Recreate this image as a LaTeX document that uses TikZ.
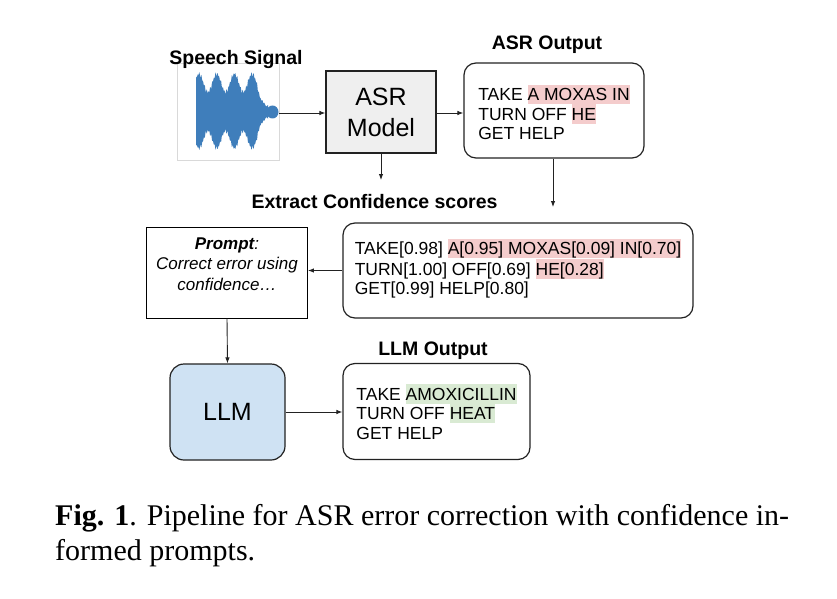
\documentclass[tikz,border=0pt]{standalone}
\usepackage{fontspec}
\setmainfont{Liberation Sans}
\newfontfamily\capfont{Liberation Serif}
\usetikzlibrary{arrows.meta}
\definecolor{hlred}{HTML}{F4CCCC}
\definecolor{hlgreen}{HTML}{D9EAD3}
\definecolor{llmblue}{HTML}{CFE2F3}
\definecolor{asrgray}{HTML}{EFEFEF}
\definecolor{wavecol}{HTML}{3F7EBB}
\definecolor{linecol}{HTML}{222222}
\newcommand\hlr[1]{{\setlength{\fboxsep}{0pt}\colorbox{hlred}{\rule[-0.18em]{0pt}{1.1em}#1}}}
\newcommand\hlg[1]{{\setlength{\fboxsep}{0pt}\colorbox{hlgreen}{\rule[-0.18em]{0pt}{1.1em}#1}}}
\pgfmathdeclarefunction{wamp}{1}{\pgfmathparse{(29+9*cos((#1-199)*20.34)+1.5*sin((#1-190)*200)+1.0*sin((#1-190)*131))*min(1,max(0.18,(268-#1)/11))}}
\tikzset{
  box/.style={draw=linecol, line width=1.2pt, inner sep=0pt},
  rbox/.style={box, rounded corners=12pt},
  boxtext/.style={align=left, font=\fontsize{17.5}{19.5}\selectfont, inner sep=0pt},
  title/.style={font=\fontsize{19.5}{22}\selectfont\bfseries, anchor=base, inner sep=0pt},
  arr/.style={draw=linecol, line width=0.9pt, -{Latex[length=6pt,width=4.5pt]}},
}
\begin{document}
\begin{tikzpicture}[x=1pt,y=-1pt]
\useasboundingbox (0,0) rectangle (837,599);
\fill[white] (0,0) rectangle (837,599);

% speech signal
\node[draw=black!15, line width=0.6pt, minimum width=102pt, minimum height=97pt, inner sep=0pt] (wav) at (228,112) {};
\fill[wavecol] plot[domain=196:268,samples=170] (\x,{112-wamp(\x)}) -- plot[domain=268:196,samples=170] (\x,{112+0.95*wamp(\x)}) -- cycle;
\fill[wavecol] (272.5,112) ellipse[x radius=6,y radius=6.5];
\node[title] (tsig) at (236,65) {Speech Signal};

% ASR model
\node[box, fill=asrgray, minimum width=110pt, minimum height=82pt, align=center,
      font=\fontsize{25}{31}\selectfont] (asr) at (381,112) {ASR\\Model};

% ASR output
\node[rbox, minimum width=180pt, minimum height=95pt] (aout) at (554,110.5) {};
\node[boxtext] (aoutt) at (554,112.5) {TAKE \hlr{A MOXAS IN}\\TURN OFF \hlr{HE}\\GET HELP};
\node[title] (taout) at (547,50) {ASR Output};

% confidence
\node[title] (tconf) at (374.5,208) {Extract Confidence scores};
\node[rbox, minimum width=350pt, minimum height=95pt] (conf) at (518,270.5) {};
\node[boxtext] (conft) at (518,268.5) {TAKE[0.98] \hlr{A[0.95] MOXAS[0.09] IN[0.70]}\\TURN[1.00] OFF[0.69] \hlr{HE[0.28]}\\GET[0.99] HELP[0.80]};

% prompt
\node[draw=black, line width=0.9pt, minimum width=161pt, minimum height=91pt, inner sep=0pt] (prompt) at (227,272.5) {};
\node[align=center, font=\fontsize{17}{20.5}\selectfont\itshape, inner sep=0pt] (promptt) at (227,264) {\textbf{Prompt}:\\Correct error using\\confidence…};

% LLM
\node[rbox, rounded corners=14pt, fill=llmblue, minimum width=115pt, minimum height=96pt,
      font=\fontsize{25}{31}\selectfont] (llm) at (227.5,412) {LLM};

% LLM output
\node[title] (tlout) at (433,355) {LLM Output};
\node[rbox, minimum width=187pt, minimum height=96pt] (lout) at (436.5,411.5) {};
\node[boxtext] (loutt) at (436.5,412) {TAKE \hlg{AMOXICILLIN}\\TURN OFF \hlg{HEAT}\\GET HELP};

% connectors
\coordinate (asrdown) at (381,180);
\coordinate (aoutdown) at (553,207);
\draw[arr] (wav.east |- asr.west) ++(0,1) -- ([yshift=-1pt]asr.west);
\draw[arr] ([yshift=-1pt]asr.east) -- ([yshift=-1pt]asr.east -| aout.west);
\draw[arr] (asr.south) -- (asrdown);
\draw[arr] (aout.south -| aoutdown) -- (aoutdown);
\draw[arr] (conf.west) -- (conf.west -| prompt.east);
\draw[arr] (prompt.south) -- (llm.north);
\draw[arr] (llm.east) -- (llm.east -| lout.west);

% caption
\node[anchor=base west, align=left, inner sep=0pt, font=\capfont\fontsize{30}{35}\selectfont] (cap) at (55,560)
  {\textbf{Fig. 1}. Pipeline for ASR error correction with confidence in-\\formed prompts.};
\end{tikzpicture}
\end{document}
